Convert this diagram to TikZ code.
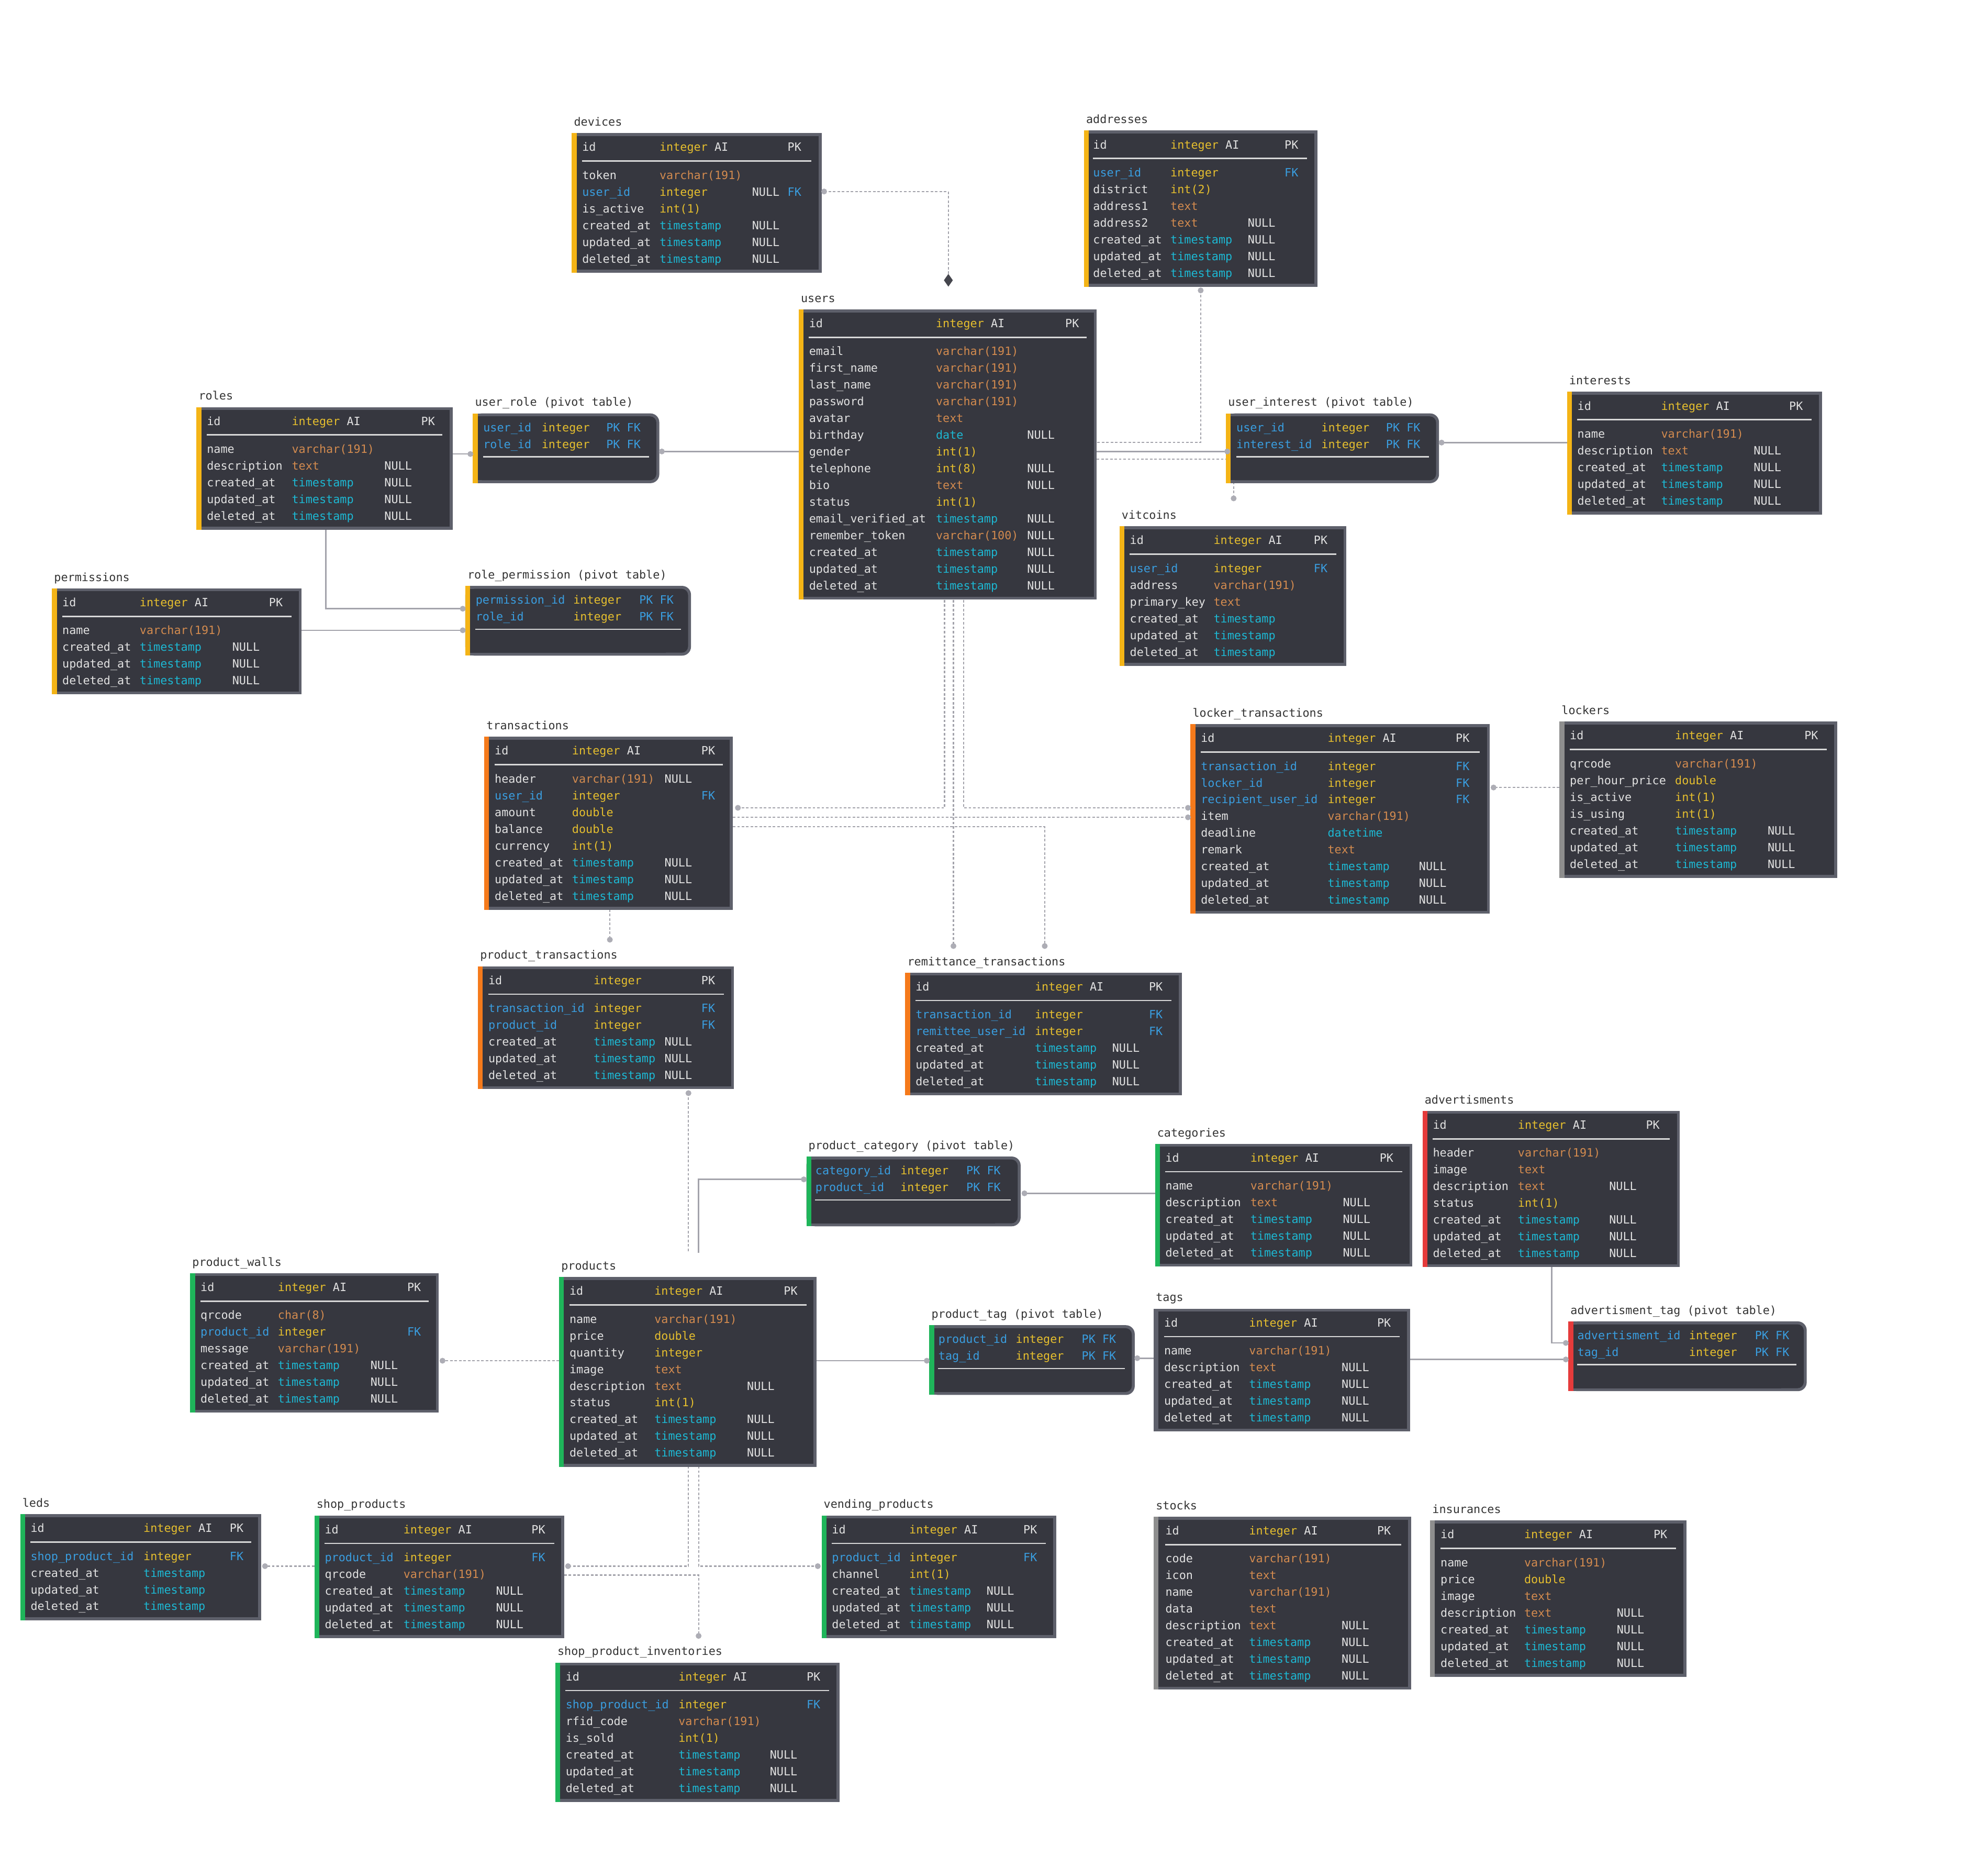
\documentclass[tikz,border=0pt]{standalone}
\usepackage{fontspec}
\setmonofont{DejaVu Sans Mono}
\usetikzlibrary{fit}
\definecolor{bgc}{HTML}{36373F}
\definecolor{bd}{HTML}{5E606B}
\definecolor{wt}{HTML}{E2E2E2}
\definecolor{yl}{HTML}{E6BF2E}
\definecolor{orc}{HTML}{D38B4F}
\definecolor{cy}{HTML}{1DB8D3}
\definecolor{bl}{HTML}{3A9EE0}
\definecolor{sY}{HTML}{F4B416}
\definecolor{sO}{HTML}{F57A1B}
\definecolor{sG}{HTML}{1FB55A}
\definecolor{sR}{HTML}{E53B3B}
\definecolor{sGr}{HTML}{8E8E8E}
\definecolor{ln}{HTML}{A3A3AB}
\definecolor{dt}{HTML}{ADADB5}
\definecolor{lb}{HTML}{333333}
\definecolor{sepl}{HTML}{D8D8D8}
\definecolor{dmc}{HTML}{45464D}
\tikzset{
  cell/.style={font=\ttfamily\fontsize{9}{10}\selectfont, inner sep=0pt, anchor=base west},
  cW/.style={text=wt}, cB/.style={text=bl}, cY/.style={text=yl}, cO/.style={text=orc}, cC/.style={text=cy},
  lbl/.style={cell, text=lb},
  sepc/.style={draw=sepl, line width=1.1pt},
  conn/.style={draw=ln, line width=1.1pt},
  dconn/.style={draw=ln, line width=0.9pt, dash pattern=on 2pt off 1.5pt},
  enddot/.style={fill=dt},
  diam/.style={fill=dmc}
}
\newcommand\cols[4]{\def\cA{#1}\def\cB{#2}\def\cC{#3}\def\cD{#4}}
% name, left, right, first-row y, rows, stripe, title
\newcommand\erbox[7]{%
  \def\yo{#4}%
  \pgfmathsetmacro\erB{#4+(#5-1)*13.2+11}%
  \fill[bd] (#2,#4-33) rectangle (#3,\erB);
  \fill[bgc] (#2+2.3,#4-30.7) rectangle (#3-2.3,\erB-2.3);
  \fill[#6] (#2,#4-33) rectangle (#2+3.8,\erB);
  \node[fit={(#2,#4-33) (#3,\erB)}, inner sep=0pt] (#1) {};
  \node[lbl] (#1-t) at (#2+1.5,#4-38.7) {#7};
  \draw[sepc] (\cA,#4-11) -- (#3-8,#4-11);
}
% name, left, right, first-row y, stripe, title
\newcommand\pvbox[6]{%
  \def\yo{#4}%
  \pgfmathsetmacro\erB{#4+44}%
  \fill[bd, rounded corners=7pt] (#2,#4-11) rectangle (#3,\erB);
  \fill[bd] (#2,#4-11) rectangle (#3-20,\erB);
  \fill[bgc, rounded corners=5pt] (#2+2.3,#4-8.7) rectangle (#3-2.3,\erB-2.3);
  \fill[bgc] (#2+2.3,#4-8.7) rectangle (#3-20,\erB-2.3);
  \fill[#5] (#2,#4-11) rectangle (#2+3.8,\erB);
  \node[fit={(#2,#4-11) (#3,\erB)}, inner sep=0pt] (#1) {};
  \node[lbl] (#1-t) at (#2+1.5,#4-16.7) {#6};
  \draw[sepc] (\cA,#4+23.2) -- (#3-8,#4+23.2);
}
\newcommand\R[8]{%
  \pgfmathsetmacro\ry{\yo+(#1)*13.2+3.3}%
  \node[cell,#2] at (\cA,\ry) {#3};
  \node[cell,#4] at (\cB,\ry) {#5};
  \node[cell,cW] at (\cC,\ry) {#6};
  \node[cell,#7] at (\cD,\ry) {#8};
}
\newcommand\Hd[1]{%
  \pgfmathsetmacro\ry{\yo-22+3.3}%
  \node[cell,cW] at (\cA,\ry) {id};
  \node[cell,cW] at (\cB,\ry) {\textcolor{yl}{integer}#1};
  \node[cell,cW] at (\cD,\ry) {PK};
}
\newcommand\Ro[4]{\R{#1}{cW}{#2}{cO}{#3}{#4}{cW}{}}
\newcommand\Ry[4]{\R{#1}{cW}{#2}{cY}{#3}{#4}{cW}{}}
\newcommand\Rc[4]{\R{#1}{cW}{#2}{cC}{#3}{#4}{cW}{}}
\newcommand\FK[2]{\R{#1}{cB}{#2}{cY}{integer}{}{cB}{FK}}
\newcommand\PF[2]{\R{#1}{cB}{#2}{cY}{integer}{}{cB}{PK FK}}
\newcommand\TSS[1]{\Rc{#1}{created\_at}{timestamp}{NULL}\Rc{#1+1}{updated\_at}{timestamp}{NULL}\Rc{#1+2}{deleted\_at}{timestamp}{NULL}}
\newcommand\TSSn[1]{\Rc{#1}{created\_at}{timestamp}{}\Rc{#1+1}{updated\_at}{timestamp}{}\Rc{#1+2}{deleted\_at}{timestamp}{}}

\begin{document}
\begin{tikzpicture}[x=1pt,y=-1pt]
\fill[white] (0,0) rectangle (1568,1473);
\useasboundingbox (0,0) rectangle (1568,1473);

% ---------- connector end points ----------
\coordinate (dev-u) at (650,151);   \coordinate (usr-dia) at (748,221);
\coordinate (adr-b) at (947,229);   \coordinate (usr-r1) at (865,349);
\coordinate (usr-r2) at (865,356);  \coordinate (ui-l) at (968,356);
\coordinate (usr-r3) at (865,362);  \coordinate (vit-t) at (973,393);
\coordinate (ui-r) at (1137,349);   \coordinate (int-l) at (1236,349);
\coordinate (rol-r) at (357,358);   \coordinate (ur-l) at (371,358);
\coordinate (ur-r) at (522,356);    \coordinate (usr-l) at (630,356);
\coordinate (rol-b) at (257,417);   \coordinate (rp-l1) at (365,480);
\coordinate (per-r) at (238,497);   \coordinate (rp-l2) at (365,497);
\coordinate (usr-b1) at (745,473);  \coordinate (tr-r1) at (582,637);
\coordinate (usr-b2) at (752,473);  \coordinate (rem-t1) at (752,746);
\coordinate (usr-b3) at (760,473);  \coordinate (lt-l1) at (937,637);
\coordinate (tr-r2) at (578,644.5); \coordinate (lt-l2) at (937,644.5);
\coordinate (tr-r3) at (578,652);   \coordinate (rem-t2) at (824,746);
\coordinate (tr-b) at (481,717);    \coordinate (pt-t) at (481,741);
\coordinate (lk-l) at (1230,621);   \coordinate (lt-r) at (1178,621);
\coordinate (pt-b) at (543,862);    \coordinate (pr-t1) at (543,988);
\coordinate (pr-t2) at (551,988);   \coordinate (pc-l) at (634,930);
\coordinate (pc-r) at (808,941);    \coordinate (cat-l) at (911,941);
\coordinate (pr-r) at (644,1073);   \coordinate (ptg-l) at (731,1073);
\coordinate (ptg-r) at (897,1071);  \coordinate (tag-l) at (910,1071);
\coordinate (tag-r) at (1112,1072); \coordinate (at-l2) at (1235,1072);
\coordinate (adv-b) at (1224,999);  \coordinate (at-l1) at (1235,1059);
\coordinate (pr-l) at (441,1073);   \coordinate (pw-r) at (349,1073);
\coordinate (pr-b1) at (543,1156);  \coordinate (sp-r1) at (448,1235);
\coordinate (pr-b2) at (551,1156);  \coordinate (vp-l) at (645,1235);
\coordinate (sp-r2) at (445,1242);  \coordinate (spi-t) at (551,1290);
\coordinate (sp-l) at (248,1235);   \coordinate (led-r) at (209,1235);

% ---------- connectors ----------
\draw[dconn] (dev-u) -| (usr-dia);
\draw[dconn] (adr-b) |- (usr-r1);
\draw[conn] (usr-r2) -- (ui-l);
\draw[dconn] (usr-r3) -| (vit-t);
\draw[conn] (ui-r) -- (int-l);
\draw[conn] (rol-r) -- (ur-l);
\draw[conn] (ur-r) -- (usr-l);
\draw[conn] (rol-b) |- (rp-l1);
\draw[conn] (per-r) -- (rp-l2);
\draw[dconn] (usr-b1) |- (tr-r1);
\draw[dconn] (usr-b2) -- (rem-t1);
\draw[dconn] (usr-b3) |- (lt-l1);
\draw[dconn] (tr-r2) -- (lt-l2);
\draw[dconn] (tr-r3) -| (rem-t2);
\draw[dconn] (tr-b) -- (pt-t);
\draw[dconn] (lk-l) -- (lt-r);
\draw[dconn] (pt-b) -- (pr-t1);
\draw[conn] (pr-t2) |- (pc-l);
\draw[conn] (pc-r) -- (cat-l);
\draw[conn] (pr-r) -- (ptg-l);
\draw[conn] (ptg-r) -- (tag-l);
\draw[conn] (tag-r) -- (at-l2);
\draw[conn] (adv-b) |- (at-l1);
\draw[dconn] (pr-l) -- (pw-r);
\draw[dconn] (pr-b1) |- (sp-r1);
\draw[dconn] (pr-b2) |- (vp-l);
\draw[dconn] (sp-r2) -| (spi-t);
\draw[dconn] (sp-l) -- (led-r);

% ---------- tables ----------
\cols{459}{520}{593}{621}
\erbox{devices}{451}{648}{138}{6}{sY}{devices}
\Hd{ AI}
\Ro{0}{token}{varchar(191)}{}
\R{1}{cB}{user\_id}{cY}{integer}{NULL}{cB}{FK}
\Ry{2}{is\_active}{int(1)}{}
\TSS{3}

\cols{862}{923}{984}{1013}
\erbox{addresses}{855}{1039}{136}{7}{sY}{addresses}
\Hd{ AI}
\FK{0}{user\_id}
\Ry{1}{district}{int(2)}{}
\Ro{2}{address1}{text}{}
\Ro{3}{address2}{text}{NULL}
\TSS{4}

\cols{638}{738}{810}{840}
\erbox{users}{630}{865}{277}{15}{sY}{users}
\Hd{ AI}
\Ro{0}{email}{varchar(191)}{}
\Ro{1}{first\_name}{varchar(191)}{}
\Ro{2}{last\_name}{varchar(191)}{}
\Ro{3}{password}{varchar(191)}{}
\Ro{4}{avatar}{text}{}
\Rc{5}{birthday}{date}{NULL}
\Ry{6}{gender}{int(1)}{}
\Ry{7}{telephone}{int(8)}{NULL}
\Ro{8}{bio}{text}{NULL}
\Ry{9}{status}{int(1)}{}
\Rc{10}{email\_verified\_at}{timestamp}{NULL}
\Ro{11}{remember\_token}{varchar(100)}{NULL}
\TSS{12}

\cols{163}{230}{303}{332}
\erbox{roles}{155}{357}{354}{5}{sY}{roles}
\Hd{ AI}
\Ro{0}{name}{varchar(191)}{}
\Ro{1}{description}{text}{NULL}
\TSS{2}

\cols{381}{427}{0}{478}
\pvbox{user-role}{373}{520}{337}{sY}{user\_role (pivot table)}
\PF{0}{user\_id}
\PF{1}{role\_id}

\cols{49}{110}{183}{212}
\erbox{permissions}{41}{238}{497}{4}{sY}{permissions}
\Hd{ AI}
\Ro{0}{name}{varchar(191)}{}
\TSS{1}

\cols{375}{452}{0}{504}
\pvbox{role-permission}{367}{545}{473}{sY}{role\_permission (pivot table)}
\PF{0}{permission\_id}
\PF{1}{role\_id}

\cols{975}{1042}{0}{1093}
\pvbox{user-interest}{967}{1135}{337}{sY}{user\_interest (pivot table)}
\PF{0}{user\_id}
\PF{1}{interest\_id}

\cols{1244}{1310}{1383}{1411}
\erbox{interests}{1236}{1437}{342}{5}{sY}{interests}
\Hd{ AI}
\Ro{0}{name}{varchar(191)}{}
\Ro{1}{description}{text}{NULL}
\TSS{2}

\cols{891}{957}{0}{1036}
\erbox{vitcoins}{883}{1062}{448}{6}{sY}{vitcoins}
\Hd{ AI}
\FK{0}{user\_id}
\Ro{1}{address}{varchar(191)}{}
\Ro{2}{primary\_key}{text}{}
\TSSn{3}

\cols{390}{451}{524}{553}
\erbox{transactions}{382}{578}{614}{8}{sO}{transactions}
\Hd{ AI}
\Ro{0}{header}{varchar(191)}{NULL}
\FK{1}{user\_id}
\Ry{2}{amount}{double}{}
\Ry{3}{balance}{double}{}
\Ry{4}{currency}{int(1)}{}
\TSS{5}

\cols{947}{1047}{1119}{1148}
\erbox{locker-transactions}{939}{1175}{604}{9}{sO}{locker\_transactions}
\Hd{ AI}
\FK{0}{transaction\_id}
\FK{1}{locker\_id}
\FK{2}{recipient\_user\_id}
\Ro{3}{item}{varchar(191)}{}
\Rc{4}{deadline}{datetime}{}
\Ro{5}{remark}{text}{}
\TSS{6}

\cols{1238}{1321}{1394}{1423}
\erbox{lockers}{1230}{1449}{602}{7}{sGr}{lockers}
\Hd{ AI}
\Ro{0}{qrcode}{varchar(191)}{}
\Ry{1}{per\_hour\_price}{double}{}
\Ry{2}{is\_active}{int(1)}{}
\Ry{3}{is\_using}{int(1)}{}
\TSS{4}

\cols{385}{468}{524}{553}
\erbox{product-transactions}{377}{579}{795}{5}{sO}{product\_transactions}
\Hd{}
\FK{0}{transaction\_id}
\FK{1}{product\_id}
\TSS{2}

\cols{722}{816}{877}{906}
\erbox{remittance-transactions}{714}{932}{800}{5}{sO}{remittance\_transactions}
\Hd{ AI}
\FK{0}{transaction\_id}
\FK{1}{remittee\_user\_id}
\TSS{2}

\cols{643}{710}{0}{762}
\pvbox{product-category}{636}{805}{923}{sG}{product\_category (pivot table)}
\PF{0}{category\_id}
\PF{1}{product\_id}

\cols{919}{986}{1059}{1088}
\erbox{categories}{911}{1114}{935}{5}{sG}{categories}
\Hd{ AI}
\Ro{0}{name}{varchar(191)}{}
\Ro{1}{description}{text}{NULL}
\TSS{2}

\cols{1130}{1197}{1269}{1298}
\erbox{advertisments}{1122}{1325}{909}{7}{sR}{advertisments}
\Hd{ AI}
\Ro{0}{header}{varchar(191)}{}
\Ro{1}{image}{text}{}
\Ro{2}{description}{text}{NULL}
\Ry{3}{status}{int(1)}{}
\TSS{4}

\cols{158}{219}{292}{321}
\erbox{product-walls}{150}{346}{1037}{6}{sG}{product\_walls}
\Hd{ AI}
\Ro{0}{qrcode}{char(8)}{}
\FK{1}{product\_id}
\Ro{2}{message}{varchar(191)}{}
\TSS{3}

\cols{449}{516}{589}{618}
\erbox{products}{441}{644}{1040}{9}{sG}{products}
\Hd{ AI}
\Ro{0}{name}{varchar(191)}{}
\Ry{1}{price}{double}{}
\Ry{2}{quantity}{integer}{}
\Ro{3}{image}{text}{}
\Ro{4}{description}{text}{NULL}
\Ry{5}{status}{int(1)}{}
\TSS{6}

\cols{740}{801}{0}{853}
\pvbox{product-tag}{733}{895}{1056}{sG}{product\_tag (pivot table)}
\PF{0}{product\_id}
\PF{1}{tag\_id}

\cols{918}{985}{1058}{1086}
\erbox{tags}{910}{1112}{1065}{5}{bd}{tags}
\Hd{ AI}
\Ro{0}{name}{varchar(191)}{}
\Ro{1}{description}{text}{NULL}
\TSS{2}

\cols{1244}{1332}{0}{1384}
\pvbox{advertisment-tag}{1237}{1425}{1053}{sR}{advertisment\_tag (pivot table)}
\PF{0}{advertisment\_id}
\PF{1}{tag\_id}

\cols{24}{113}{0}{181}
\erbox{leds}{16}{206}{1227}{4}{sG}{leds}
\Hd{ AI}
\FK{0}{shop\_product\_id}
\TSSn{1}

\cols{256}{318}{391}{419}
\erbox{shop-products}{248}{445}{1228}{5}{sG}{shop\_products}
\Hd{ AI}
\FK{0}{product\_id}
\Ro{1}{qrcode}{varchar(191)}{}
\TSS{2}

\cols{656}{717}{778}{807}
\erbox{vending-products}{648}{833}{1228}{5}{sG}{vending\_products}
\Hd{ AI}
\FK{0}{product\_id}
\Ry{1}{channel}{int(1)}{}
\TSS{2}

\cols{446}{535}{607}{636}
\erbox{shop-product-inventories}{438}{662}{1344}{6}{sG}{shop\_product\_inventories}
\Hd{ AI}
\FK{0}{shop\_product\_id}
\Ro{1}{rfid\_code}{varchar(191)}{}
\Ry{2}{is\_sold}{int(1)}{}
\TSS{3}

\cols{919}{985}{1058}{1086}
\erbox{stocks}{910}{1113}{1229}{8}{sGr}{stocks}
\Hd{ AI}
\Ro{0}{code}{varchar(191)}{}
\Ro{1}{icon}{text}{}
\Ro{2}{name}{varchar(191)}{}
\Ro{3}{data}{text}{}
\Ro{4}{description}{text}{NULL}
\TSS{5}

\cols{1136}{1202}{1275}{1304}
\erbox{insurances}{1128}{1330}{1232}{7}{sGr}{insurances}
\Hd{ AI}
\Ro{0}{name}{varchar(191)}{}
\Ry{1}{price}{double}{}
\Ro{2}{image}{text}{}
\Ro{3}{description}{text}{NULL}
\TSS{4}

% ---------- end markers ----------
\foreach \p in {dev-u,adr-b,ui-l,vit-t,ui-r,ur-l,ur-r,rp-l1,rp-l2,tr-r1,rem-t1,lt-l1,lt-l2,rem-t2,pt-t,lt-r,pt-b,pc-l,pc-r,ptg-l,ptg-r,at-l2,at-l1,pw-r,sp-r1,vp-l,spi-t,led-r}
  \fill[enddot] (\p) circle[radius=2.3pt];
\fill[diam] ([yshift=5pt]usr-dia) -- ([xshift=3.5pt]usr-dia) -- ([yshift=-5pt]usr-dia) -- ([xshift=-3.5pt]usr-dia) -- cycle;
\end{tikzpicture}
\end{document}
